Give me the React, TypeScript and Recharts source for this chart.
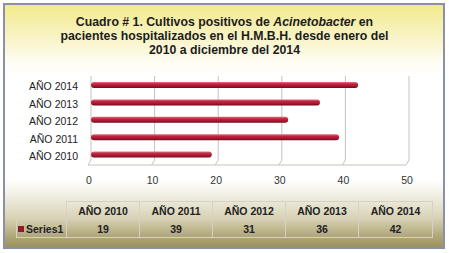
import React from 'react';
import { BarChart, Bar, XAxis, YAxis, CartesianGrid } from 'recharts';

const categories = ['AÑO 2010', 'AÑO 2011', 'AÑO 2012', 'AÑO 2013', 'AÑO 2014'];
const series1 = [19, 39, 31, 36, 42];
const xTicks = [0, 10, 20, 30, 40, 50];
const seriesName = 'Series1';

const data = categories.map((c, i) => ({ name: c, value: series1[i] }));

const FONT = '"Liberation Sans", Arial, Helvetica, sans-serif';
const GRID = '#c9c1ba';

const gridLine = (props: any) => {
  const { x1, y1, y2, index } = props;
  const d = `M${x1},${y1} L${x1},${y2 - 3} L${x1 - 3},${y2 + 2}`;
  return <path key={`g${index}`} d={d} stroke={GRID} strokeWidth={1} fill="none" />;
};

const CatTick = (props: any) => {
  const { x, y, payload } = props;
  return (
    <text x={x} y={y + 2} dy="0.355em" textAnchor="end" fill="#222" fontSize={10.5} fontFamily={FONT}>
      {payload.value}
    </text>
  );
};

export default function App() {
  const colW = [50, 73, 73, 73, 73, 74];
  const cellBorder = '1px solid #d6d0c6';
  return (
    <div style={{ position: 'absolute', left: 0, top: 0, width: 449, height: 253, background: '#fff', fontFamily: FONT }}>
      <div
        style={{
          position: 'absolute', left: 3, top: 3, width: 438, height: 242,
          border: '2px solid #8a90aa',
          background: 'linear-gradient(to bottom, #f3ea8c 0%, #f8f2c0 12%, #fefdf4 24%, #ffffff 30%, #ffffff 72%, #f0eee2 79%, #d8d3b5 88%, #b3aa7c 95%, #9c925f 100%)',
        }}
      />
      <div style={{ position: 'absolute', left: 0, top: 15, width: 449, textAlign: 'center', fontWeight: 'bold', fontSize: 12.3, lineHeight: '14px', color: '#1c1c1c' }}>
        <div>Cuadro # 1. Cultivos positivos de <i>Acinetobacter</i> en</div>
        <div>pacientes hospitalizados en el H.M.B.H. desde enero del</div>
        <div>2010 a diciembre del 2014</div>
      </div>
      <div style={{ position: 'absolute', left: 0, top: 0 }}>
        <BarChart
          width={449}
          height={200}
          data={data}
          layout="vertical"
          margin={{ top: 76, right: 40, bottom: 7, left: 11 }}
          barCategoryGap={0}
        >
          <defs>
            <linearGradient id="barGrad" x1="0" y1="0" x2="0" y2="1">
              <stop offset="0%" stopColor="#e46b7b" />
              <stop offset="35%" stopColor="#c0253f" />
              <stop offset="70%" stopColor="#a3182f" />
              <stop offset="100%" stopColor="#6a0c1a" />
            </linearGradient>
          </defs>
          <CartesianGrid horizontal={false} vertical={gridLine} />
          <XAxis
            type="number"
            domain={[0, 50]}
            ticks={xTicks}
            interval={0}
            height={30}
            tickLine={false}
            tickSize={6}
            tickMargin={8}
            axisLine={{ stroke: GRID, transform: 'translate(-3 2)' }}
            tick={{ fill: '#333', fontSize: 10.5, fontFamily: FONT, dx: -2 }}
          />
          <YAxis
            type="category"
            dataKey="name"
            reversed
            interval={0}
            width={80}
            tickLine={false}
            axisLine={false}
            tickSize={6}
            tickMargin={7}
            tick={<CatTick />}
          />
          <Bar dataKey="value" barSize={6} fill="url(#barGrad)" radius={3} isAnimationActive={false} />
        </BarChart>
      </div>
      <table
        style={{
          position: 'absolute', left: 16, top: 201, borderCollapse: 'collapse', tableLayout: 'fixed',
          fontFamily: FONT, fontSize: 10.5, fontWeight: 'bold', color: '#222',
        }}
      >
        <colgroup>
          {colW.map((w, i) => <col key={i} style={{ width: w }} />)}
        </colgroup>
        <tbody>
          <tr style={{ height: 18 }}>
            <td style={{ padding: 0 }} />
            {categories.map((c) => (
              <td key={c} style={{ border: cellBorder, textAlign: 'center', padding: 0 }}>{c}</td>
            ))}
          </tr>
          <tr style={{ height: 18 }}>
            <td style={{ border: cellBorder, padding: '0 0 0 1px', whiteSpace: 'nowrap', textAlign: 'left' }}>
              <span style={{ display: 'inline-block', width: 6, height: 6, background: '#8e1a2c', marginRight: 2, verticalAlign: 1 }} />
              {seriesName}
            </td>
            {series1.map((v, i) => (
              <td key={i} style={{ border: cellBorder, textAlign: 'center', padding: 0 }}>{v}</td>
            ))}
          </tr>
        </tbody>
      </table>
    </div>
  );
}
